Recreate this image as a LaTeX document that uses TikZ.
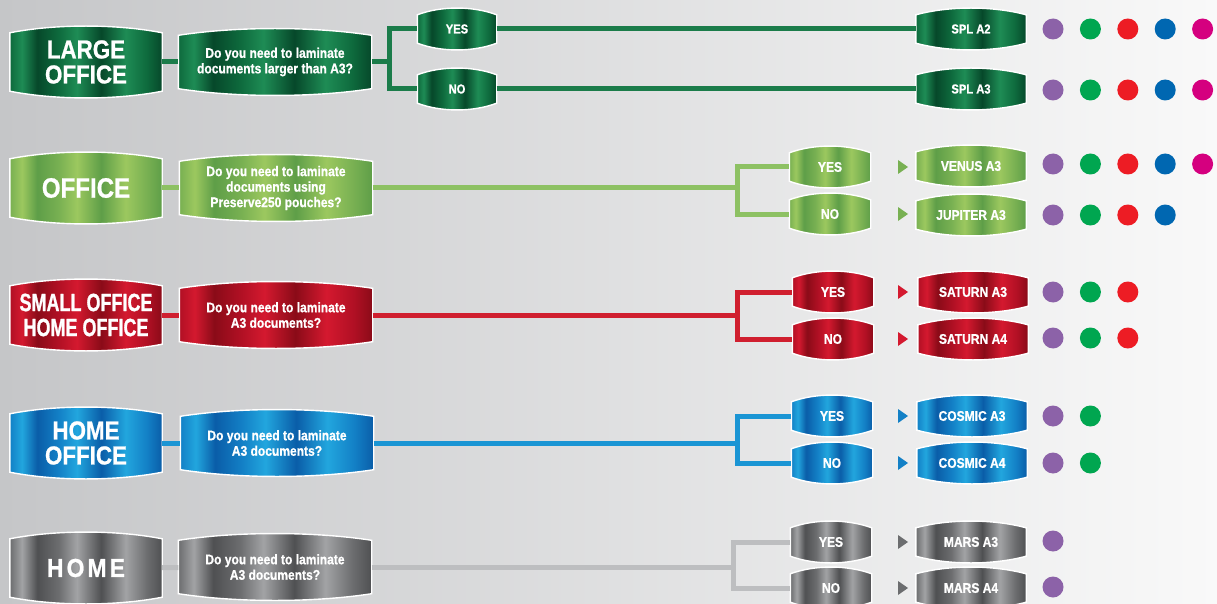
\documentclass[tikz,border=0pt]{standalone}
\usepackage{fontspec}
\setmainfont{Liberation Sans}[FakeStretch=0.86,BoldFeatures={FakeBold=0.8}]
\newfontfamily\narrowsans{Liberation Sans}[FakeStretch=0.72,BoldFeatures={FakeBold=0.8}]
\newfontfamily\widesans{Liberation Sans}[FakeStretch=0.88,LetterSpace=12,BoldFeatures={FakeBold=0.8}]
\usetikzlibrary{calc}

\definecolor{bgleft}{HTML}{C5C6C8}
\definecolor{bgright}{HTML}{F9F9F9}
\definecolor{dkgreenline}{HTML}{1B7C4A}
\definecolor{dkgreenA}{HTML}{06482A}
\definecolor{dkgreenB}{HTML}{0E6A3D}
\definecolor{dkgreenC}{HTML}{1E8C55}
\definecolor{ltgreenline}{HTML}{8DC163}
\definecolor{ltgreenA}{HTML}{5E9E48}
\definecolor{ltgreenB}{HTML}{78B052}
\definecolor{ltgreenC}{HTML}{9CC85F}
\definecolor{redline}{HTML}{D01F2F}
\definecolor{redA}{HTML}{8A0B18}
\definecolor{redB}{HTML}{B11024}
\definecolor{redC}{HTML}{D4192F}
\definecolor{blueline}{HTML}{1A95D4}
\definecolor{blueA}{HTML}{0A5DA8}
\definecolor{blueB}{HTML}{1380C6}
\definecolor{blueC}{HTML}{22A6DE}
\definecolor{grayline}{HTML}{BDBEC0}
\definecolor{grayA}{HTML}{4F5052}
\definecolor{grayB}{HTML}{6C6D6F}
\definecolor{grayC}{HTML}{A2A3A5}
\definecolor{dotpurple}{HTML}{8C62A8}
\definecolor{dotgreen}{HTML}{00A650}
\definecolor{dotred}{HTML}{ED1C24}
\definecolor{dotblue}{HTML}{0067B1}
\definecolor{dotpink}{HTML}{D5007F}

\newcommand\metalshading[4]{\pgfdeclarehorizontalshading{#1}{100bp}{color(0bp)=(#2); color(25bp)=(#3); color(29bp)=(#4); color(34bp)=(#2); color(41bp)=(#3); color(47bp)=(#4); color(55bp)=(#2); color(63bp)=(#4); color(70bp)=(#3); color(75bp)=(#2); color(100bp)=(#2)}}
\metalshading{dkgreenmetal}{dkgreenA}{dkgreenB}{dkgreenC}
\metalshading{ltgreenmetal}{ltgreenA}{ltgreenB}{ltgreenC}
\metalshading{redmetal}{redA}{redB}{redC}
\metalshading{bluemetal}{blueA}{blueB}{blueC}
\metalshading{graymetal}{grayA}{grayB}{grayC}

\newcommand\tagpath[1]{(#1.south west) -- (#1.north west) .. controls ($(#1.north west)!.3!(#1.north east)+(0,-9)$) and ($(#1.north west)!.7!(#1.north east)+(0,-9)$) .. (#1.north east) -- (#1.south east) .. controls ($(#1.south west)!.7!(#1.south east)+(0,9)$) and ($(#1.south west)!.3!(#1.south east)+(0,9)$) .. (#1.south west) -- cycle}

\pgfdeclarelayer{back}\pgfdeclarelayer{tags}
\pgfsetlayers{back,tags,main}

\tikzset{
  cat/.style={minimum width=152pt, minimum height=58pt, inner sep=0pt, align=center, text=white, font=\bfseries\fontsize{26}{25}\selectfont},
  ques/.style={minimum width=193pt, minimum height=53pt, inner sep=0pt, align=center, text=white, font=\bfseries\fontsize{14}{15.5}\selectfont},
  ans/.style={minimum width=81pt, minimum height=28pt, inner sep=0pt, text=white, font=\bfseries\fontsize{14}{15}\selectfont},
  prod/.style={minimum width=110pt, minimum height=28pt, inner sep=0pt, text=white, font=\bfseries\fontsize{14}{15}\selectfont},
  link/.style={line width=5pt, color=#1}
}

\begin{document}
\begin{tikzpicture}[x=1pt,y=-1pt]
\useasboundingbox (0,0) rectangle (1217,604);
\clip (0,0) rectangle (1217,604);
\begin{pgfonlayer}{back}
\fill[left color=bgleft, right color=bgright] (0,0) rectangle (1217,604);
\end{pgfonlayer}

\node[cat] (c1) at (86,62) {LARGE\\OFFICE};
\node[ques] (q1) at (275,62) {Do you need to laminate\\documents larger than A3?};
\node[ans,minimum width=79pt,font=\bfseries\fontsize{13}{14}\selectfont] (y1) at (457,29) {YES};
\node[ans,minimum width=79pt,font=\bfseries\fontsize{13}{14}\selectfont] (n1) at (457,89) {NO};
\node[prod,font=\bfseries\fontsize{13}{14}\selectfont] (p1a) at (971,29) {SPL A2};
\node[prod,font=\bfseries\fontsize{13}{14}\selectfont] (p1b) at (971,89) {SPL A3};

\node[cat,font=\bfseries\fontsize{28}{26}\selectfont] (c2) at (86,188) {OFFICE};
\node[ques] (q2) at (276,188) {Do you need to laminate\\documents using\\Preserve250 pouches?};
\node[ans] (y2) at (830,167) {YES};
\node[ans] (n2) at (830,214) {NO};
\node[prod] (p2a) at (971,166) {VENUS A3};
\node[prod] (p2b) at (971,215) {JUPITER A3};

\node[cat,font=\narrowsans\bfseries\fontsize{25}{25}\selectfont] (c3) at (86,315) {SMALL OFFICE\\HOME OFFICE};
\node[ques] (q3) at (276,315) {Do you need to laminate\\A3 documents?};
\node[ans] (y3) at (833,292) {YES};
\node[ans] (n3) at (833,339) {NO};
\node[prod] (p3a) at (973,292) {SATURN A3};
\node[prod] (p3b) at (973,339) {SATURN A4};

\node[cat] (c4) at (86,443) {HOME\\OFFICE};
\node[ques] (q4) at (277,443) {Do you need to laminate\\A3 documents?};
\node[ans] (y4) at (832,416) {YES};
\node[ans] (n4) at (832,463) {NO};
\node[prod] (p4a) at (972,416) {COSMIC A3};
\node[prod] (p4b) at (972,463) {COSMIC A4};

\node[cat,font=\widesans\bfseries\fontsize{26}{25}\selectfont] (c5) at (86,568) {HOME};
\node[ques] (q5) at (275,567) {Do you need to laminate\\A3 documents?};
\node[ans] (y5) at (831,542) {YES};
\node[ans] (n5) at (831,588) {NO};
\node[prod] (p5a) at (971,542) {MARS A3};
\node[prod] (p5b) at (971,588) {MARS A4};

\begin{pgfonlayer}{tags}
\foreach \n/\s in {c1/dkgreenmetal,q1/dkgreenmetal,y1/dkgreenmetal,n1/dkgreenmetal,p1a/dkgreenmetal,p1b/dkgreenmetal,
  c2/ltgreenmetal,q2/ltgreenmetal,y2/ltgreenmetal,n2/ltgreenmetal,p2a/ltgreenmetal,p2b/ltgreenmetal,
  c3/redmetal,q3/redmetal,y3/redmetal,n3/redmetal,p3a/redmetal,p3b/redmetal,
  c4/bluemetal,q4/bluemetal,y4/bluemetal,n4/bluemetal,p4a/bluemetal,p4b/bluemetal,
  c5/graymetal,q5/graymetal,y5/graymetal,n5/graymetal,p5a/graymetal,p5b/graymetal}
  \shadedraw[shading=\s, draw=white, line width=1.4pt] \tagpath{\n};
\end{pgfonlayer}

\coordinate (s1) at (389,62);
\coordinate (s2) at (737,188);
\coordinate (s3) at (737,315);
\coordinate (s4) at (737,443);
\coordinate (s5) at (733,567);

\draw[link=dkgreenline] (c1) -- (q1);
\draw[link=dkgreenline] (q1) -- (s1) |- (y1);
\draw[link=dkgreenline] (s1) |- (n1);
\draw[link=dkgreenline] (y1) -- (p1a);
\draw[link=dkgreenline] (n1) -- (p1b);
\draw[link=ltgreenline] (c2) -- (q2);
\draw[link=ltgreenline] (q2) -- (s2) |- (y2);
\draw[link=ltgreenline] (s2) |- (n2);
\draw[link=redline] (c3) -- (q3);
\draw[link=redline] (q3) -- (s3) |- (y3);
\draw[link=redline] (s3) |- (n3);
\draw[link=blueline] (c4) -- (q4);
\draw[link=blueline] (q4) -- (s4) |- (y4);
\draw[link=blueline] (s4) |- (n4);
\draw[link=grayline] (c5) -- (q5);
\draw[link=grayline] (q5) -- (s5) |- (y5);
\draw[link=grayline] (s5) |- (n5);

\foreach \c/\y in {ltgreenB/167,ltgreenB/214,redC/292,redC/339,blueB/416,blueB/463,grayB/542,grayB/588}
  \fill[\c] (898,{\y-7}) -- (908,\y) -- (898,{\y+7}) -- cycle;

\foreach \c [count=\i] in {dotpurple,dotgreen,dotred,dotblue,dotpink} {
  \fill[\c] ({1053+37.4*(\i-1)},29) circle (10.5pt);
  \fill[\c] ({1053+37.4*(\i-1)},90) circle (10.5pt);
  \fill[\c] ({1053+37.4*(\i-1)},164) circle (10.5pt);}
\foreach \c [count=\i] in {dotpurple,dotgreen,dotred,dotblue} \fill[\c] ({1053+37.4*(\i-1)},215) circle (10.5pt);
\foreach \c [count=\i] in {dotpurple,dotgreen,dotred} {
  \fill[\c] ({1053+37.4*(\i-1)},292) circle (10.5pt);
  \fill[\c] ({1053+37.4*(\i-1)},338) circle (10.5pt);}
\foreach \c [count=\i] in {dotpurple,dotgreen} {
  \fill[\c] ({1053+37.4*(\i-1)},416) circle (10.5pt);
  \fill[\c] ({1053+37.4*(\i-1)},463) circle (10.5pt);}
\fill[dotpurple] (1053,541) circle (10.5pt);
\fill[dotpurple] (1053,587) circle (10.5pt);
\end{tikzpicture}
\end{document}
